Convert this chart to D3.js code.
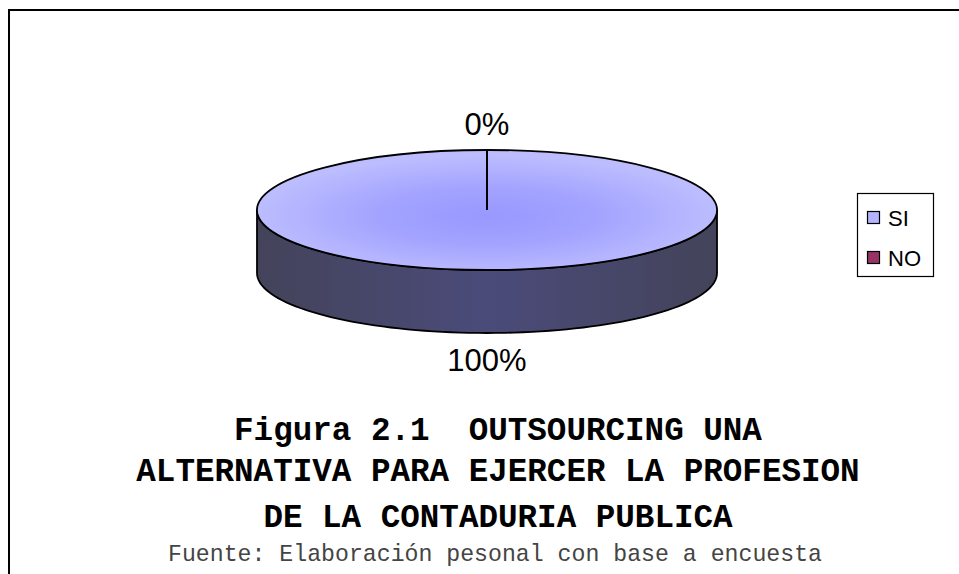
<!DOCTYPE html>
<html>
<head>
<meta charset="utf-8">
<script src="https://cdn.jsdelivr.net/npm/d3@7"></script>
<style>
  html, body { margin: 0; padding: 0; background: #fff; }
  svg { display: block; }
</style>
</head>
<body>
<svg id="chart" width="959" height="574"></svg>
<script>
// ---- data ----
const categories = ["SI", "NO"];
const values = [100, 0];
const valueLabels = ["100%", "0%"];
const titleLines = [
  "Figura 2.1  OUTSOURCING UNA",
  "ALTERNATIVA PARA EJERCER LA PROFESION",
  "DE LA CONTADURIA PUBLICA"
];
const sourceText = "Fuente: Elaboración pesonal con base a encuesta";

// ---- layout ----
const W = 959, H = 574;
const cx = 487, cy = 210, rx = 230, ry = 60, depth = 63;
const colors = d3.scaleOrdinal().domain(categories).range(["#a6a6ff", "#993366"]);
const svg = d3.select("#chart");

// frame
svg.append("path")
  .attr("d", `M9,${H} L9,10 L${W},10`)
  .attr("fill", "none").attr("stroke", "#000").attr("stroke-width", 2);

const defs = svg.append("defs");
const topGrad = defs.append("radialGradient").attr("id", "topGrad")
  .attr("cx", "0.5").attr("cy", "0.55").attr("r", "0.5");
topGrad.append("stop").attr("offset", "0%").attr("stop-color", "#9898ff");
topGrad.append("stop").attr("offset", "45%").attr("stop-color", "#a2a2ff");
topGrad.append("stop").attr("offset", "100%").attr("stop-color", "#bcbcff");
const sideGrad = defs.append("linearGradient").attr("id", "sideGrad")
  .attr("x1", "0").attr("x2", "1").attr("y1", "0").attr("y2", "0");
sideGrad.append("stop").attr("offset", "0%").attr("stop-color", "#43435a");
sideGrad.append("stop").attr("offset", "50%").attr("stop-color", "#4b4b7a");
sideGrad.append("stop").attr("offset", "100%").attr("stop-color", "#43435a");

const pie = d3.pie().sort(null).value(d => d);
const arcs = pie(values);

// point on ellipse for d3 angle (0 = 12 o'clock, clockwise)
const ex = a => cx + rx * Math.sin(a);
const ey = a => cy - ry * Math.cos(a);

const g = svg.append("g");

// side walls (visible front part: angles PI/2 .. 3PI/2)
arcs.forEach((a, i) => {
  const s = Math.max(a.startAngle, Math.PI / 2);
  const e = Math.min(a.endAngle, 3 * Math.PI / 2);
  if (e <= s) return;
  const n = 80;
  const pts = d3.range(n + 1).map(k => s + (e - s) * k / n);
  let d = "M" + pts.map(t => `${ex(t)},${ey(t)}`).join("L");
  d += "L" + pts.slice().reverse().map(t => `${ex(t)},${ey(t) + depth}`).join("L") + "Z";
  g.append("path").attr("d", d)
    .attr("fill", i === 0 ? "url(#sideGrad)" : d3.color(colors(categories[i])).darker(1.2))
    .attr("stroke", "#000").attr("stroke-width", 1.8).attr("stroke-linejoin", "round");
});

// top faces
const arcGen = d3.arc().innerRadius(0).outerRadius(rx);
const topG = g.append("g").attr("transform", `translate(${cx},${cy}) scale(1,${ry / rx})`);
arcs.forEach((a, i) => {
  if (a.endAngle - a.startAngle <= 0) return;
  topG.append("path").attr("d", arcGen(a))
    .attr("fill", i === 0 ? "url(#topGrad)" : colors(categories[i]))
    .attr("stroke", "#000").attr("stroke-width", 1.8)
    .attr("vector-effect", "non-scaling-stroke");
});
// slice boundary lines
arcs.forEach(a => {
  g.append("line")
    .attr("x1", cx).attr("y1", cy)
    .attr("x2", ex(a.startAngle)).attr("y2", ey(a.startAngle))
    .attr("stroke", "#000").attr("stroke-width", 1.8);
});

// value labels
arcs.forEach((a, i) => {
  const m = (a.startAngle + a.endAngle) / 2;
  const front = Math.cos(m) < 0;
  const x = cx + (rx + 0) * Math.sin(m);
  const y = front ? ey(m) + depth + 38 : ey(m) - 15;
  g.append("text").attr("x", x).attr("y", y)
    .attr("text-anchor", "middle")
    .attr("font-family", "Liberation Sans, Arial, sans-serif")
    .attr("font-size", 31).attr("fill", "#000")
    .text(valueLabels[i]);
});

// legend
const lg = svg.append("g");
lg.append("rect").attr("x", 857.5).attr("y", 193.5).attr("width", 76).attr("height", 83)
  .attr("fill", "#fff").attr("stroke", "#000").attr("stroke-width", 1.2);
categories.forEach((c, i) => {
  const y0 = 211 + i * 40;
  lg.append("rect").attr("x", 867.5).attr("y", y0 + 0.5).attr("width", 12).attr("height", 12)
    .attr("fill", i === 0 ? "#b4b4ff" : colors(c)).attr("stroke", "#000").attr("stroke-width", 1.2);
  lg.append("text").attr("x", 888).attr("y", y0 + 15)
    .attr("font-family", "Liberation Sans, Arial, sans-serif")
    .attr("font-size", 22).attr("fill", "#000").text(c);
});

// title
const titleY = [440, 481, 527];
titleLines.forEach((t, i) => {
  svg.append("text").attr("x", 498).attr("y", titleY[i])
    .attr("text-anchor", "middle")
    .attr("font-family", "Liberation Mono, Courier New, monospace")
    .attr("font-weight", "bold").attr("font-size", 32.6)
    .attr("xml:space", "preserve").style("white-space", "pre")
    .attr("fill", "#000").text(t);
});
svg.append("text").attr("x", 495).attr("y", 561)
  .attr("text-anchor", "middle")
  .attr("font-family", "Liberation Mono, Courier New, monospace")
  .attr("font-size", 23.2).attr("fill", "#444").text(sourceText);
</script>
</body>
</html>
